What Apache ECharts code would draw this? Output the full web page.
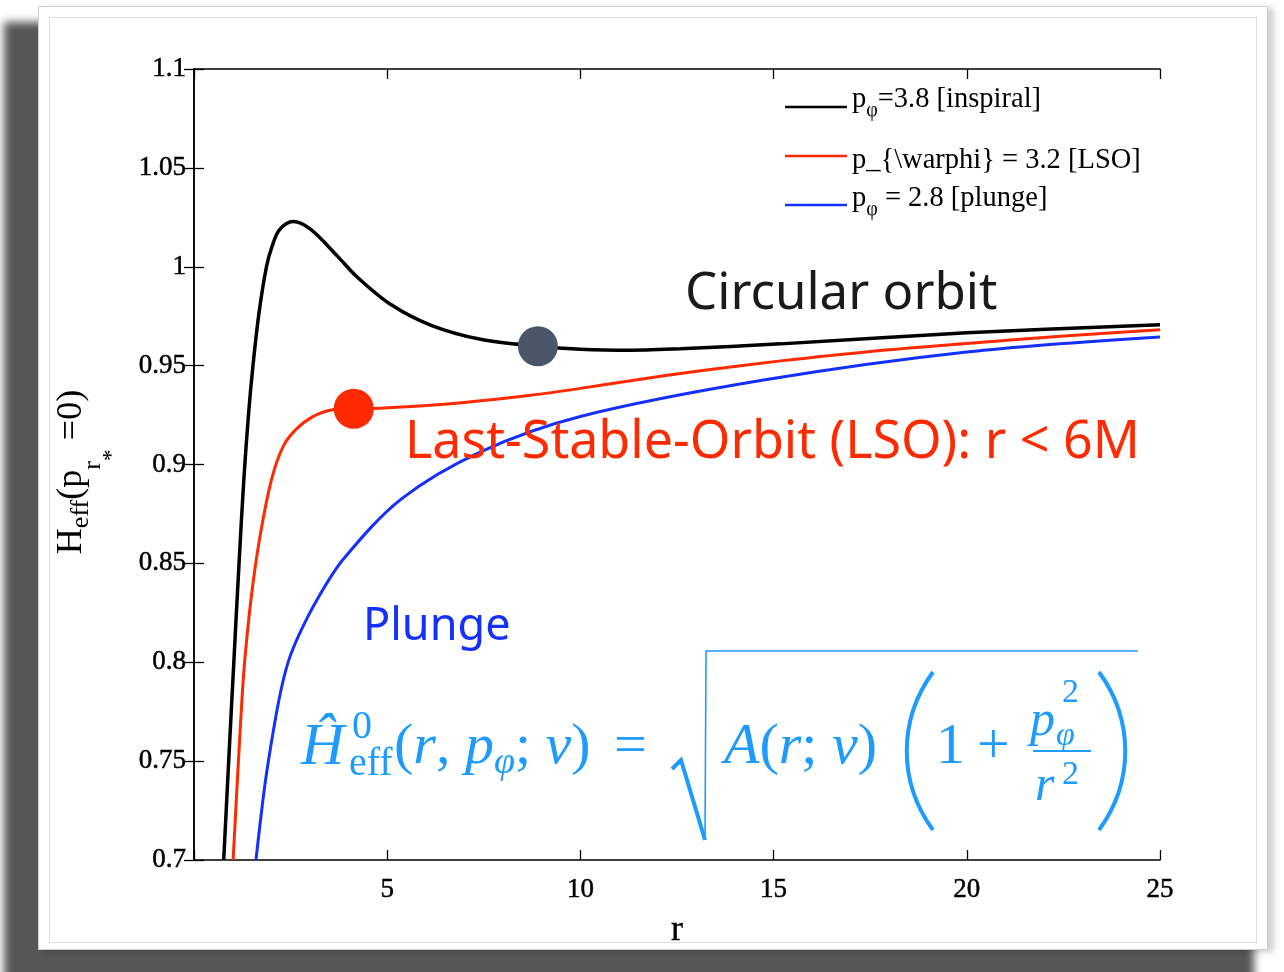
<!DOCTYPE html>
<html>
<head>
<meta charset="utf-8">
<script src="https://cdn.jsdelivr.net/npm/echarts@6/dist/echarts.min.js"></script>
<style>
  html, body { margin: 0; padding: 0; background: #ffffff; }
  #page { position: relative; width: 1284px; height: 972px; overflow: hidden; background: #ffffff; }
  #shadow { position: absolute; left: 4px; top: 22px; width: 1250px; height: 965px; background: #565656; filter: blur(4px); }
  #paper { position: absolute; left: 38px; top: 6px; width: 1228px; height: 942px; background: #ffffff;
           border: 1.5px solid #cfcfcf; box-shadow: 6px 2px 6px rgba(0,0,0,0.18); }
  #inner { position: absolute; left: 10px; top: 10px; right: 10px; bottom: 6px; border: 1px solid #dedede; }
  #chart { position: absolute; left: 0; top: 0; width: 1284px; height: 972px; }
</style>
</head>
<body>
<div id="page">
  <div id="shadow"></div>
  <div id="paper"><div id="inner"></div></div>
  <div id="chart"></div>
</div>
<script>
// Effective EOB energy at p_r* = 0 versus radius r, for three angular momenta.
const rInspiral = [0.769, 0.898, 1.031, 1.165, 1.289, 1.414, 1.528, 1.683, 1.875, 2.017, 2.211, 2.566, 3.014, 3.705, 4.223, 5.085, 6.121, 7.416, 8.90, 10.0, 11.3, 12.59, 15.18, 20, 25];
const hInspiral = [0.700, 0.7501, 0.8002, 0.8497, 0.8922, 0.9261, 0.9504, 0.9767, 1.0000, 1.0101, 1.0187, 1.0229, 1.0190, 1.0055, 0.9948, 0.9810, 0.9705, 0.9633, 0.9598, 0.9583, 0.9578, 0.9585, 0.9610, 0.9666, 0.9707];

const rLSO = [1.012, 1.15, 1.24, 1.31, 1.473, 1.693, 2.004, 2.302, 2.626, 3.066, 3.584, 4.135, 4.826, 6.38, 7.416, 8.711, 10.0, 11.3, 13.11, 15.18, 17.51, 20, 22.43, 25];
const hLSO = [0.700, 0.7501, 0.7809, 0.8002, 0.8315, 0.8619, 0.8922, 0.9089, 0.9175, 0.9241, 0.9277, 0.9282, 0.9285, 0.9303, 0.9322, 0.9350, 0.9385, 0.9424, 0.9474, 0.9524, 0.9572, 0.9612, 0.9648, 0.9681];

const rPlunge = [1.603, 1.784, 1.926, 2.198, 2.431, 2.729, 3.195, 3.868, 5.37, 7.416, 10.0, 14.74, 20, 25];
const hPlunge = [0.700, 0.7304, 0.7501, 0.7809, 0.7997, 0.8143, 0.8320, 0.8522, 0.8826, 0.9064, 0.9243, 0.9427, 0.9569, 0.9645];

// Highlighted points: circular-orbit minimum and last stable orbit
const circularPoint = [8.90, 0.9598];
const lsoPoint = [4.135, 0.9282];

// Axis tick labels
const xTicks = [0, 5, 10, 15, 20, 25];
const xTickLabels = ['', '5', '10', '15', '20', '25'];
const yTickLabels = ['0.7', '0.75', '0.8', '0.85', '0.9', '0.95', '1', '1.05', '1.1'];

const legendLabels = ['=3.8 [inspiral]', 'p_{\\warphi} = 3.2 [LSO]', ' = 2.8 [plunge]'];

const zip = (xs, ys) => xs.map((x, i) => [x, ys[i]]);

const BLACK = '#000000', RED = '#ff2a00', BLUE = '#1430ff', EQ = '#1e9bff', DOT = '#4b5569';
const SERIF = '"Liberation Serif", "Times New Roman", serif';
const SANS = '"Noto Sans", "Open Sans", sans-serif';

const chart = echarts.init(document.getElementById('chart'), null, { renderer: 'canvas' });

const axisLine = { show: true, lineStyle: { color: '#000', width: 1.5 } };
const axisTick = { show: true, inside: true, length: 10, lineStyle: { color: '#000', width: 1.3 } };
const tickFont = { fontFamily: SERIF, fontSize: 27, color: '#000', textBorderColor: '#000', textBorderWidth: 0.5 };

const graphics = [];

// Legend: sample lines and labels
const legendRows = [
  { color: BLACK, lineY: 107, textY: 100, sub: true, text: legendLabels[0] },
  { color: RED,   lineY: 156, textY: 161, sub: false, text: legendLabels[1] },
  { color: BLUE,  lineY: 205, textY: 199, sub: true, text: legendLabels[2] }
];
legendRows.forEach(row => {
  graphics.push({ type: 'line', shape: { x1: 785, y1: row.lineY, x2: 847, y2: row.lineY },
                  style: { stroke: row.color, lineWidth: 2.5 }, z: 10 });
  graphics.push({
    type: 'text', x: 852, y: row.textY, z: 10,
    style: row.sub ? {
      text: '{m|p}{s|φ}{m|' + row.text + '}',
      align: 'left', verticalAlign: 'middle',
      rich: {
        m: { fontFamily: SERIF, fontSize: 28.5, fill: '#000' },
        s: { fontFamily: SERIF, fontSize: 20, fill: '#000', padding: [22, 0, 0, 0] }
      }
    } : {
      text: row.text, align: 'left', verticalAlign: 'middle',
      fontFamily: SERIF, fontSize: 28.5, fill: '#000'
    }
  });
});

// Region annotations
graphics.push({ type: 'text', x: 685, y: 294, z: 10,
  style: { text: 'Circular orbit', fontFamily: SANS, fontSize: 51, fill: '#1a1a1a', align: 'left', verticalAlign: 'middle' } });
graphics.push({ type: 'text', x: 405, y: 443, z: 10,
  style: { text: 'Last-Stable-Orbit (LSO): r < 6M', fontFamily: SANS, fontSize: 52, fill: RED, align: 'left', verticalAlign: 'middle' } });
graphics.push({ type: 'text', x: 363, y: 627, z: 10,
  style: { text: 'Plunge', fontFamily: SANS, fontSize: 45, fill: BLUE, align: 'left', verticalAlign: 'middle' } });

// Hamiltonian formula
const eqText = (x, y, text, size, italic) => graphics.push({
  type: 'text', x: x, y: y, z: 10,
  style: { text: text, fontFamily: SERIF, fontSize: size, fontStyle: italic ? 'italic' : 'normal',
           fill: EQ, align: 'left', verticalAlign: 'middle' }
});

eqText(301, 748, 'Ĥ', 60, true);
eqText(352, 727, '0', 40, false);
eqText(349, 764, 'eff', 40, false);
graphics.push({
  type: 'text', x: 394, y: 748, z: 10,
  style: {
    text: '{u|(}{i|r}{u|, }{i|p}{s|φ}{u|; }{i|ν}{u|)}',
    align: 'left', verticalAlign: 'middle',
    rich: {
      u: { fontFamily: SERIF, fontSize: 58, fill: EQ },
      i: { fontFamily: SERIF, fontSize: 58, fontStyle: 'italic', fill: EQ },
      s: { fontFamily: SERIF, fontSize: 38, fontStyle: 'italic', fill: EQ, padding: [30, 0, 0, 0] }
    }
  }
});
eqText(614, 748, '=', 58, false);
// radical sign
graphics.push({ type: 'polyline', z: 10, shape: { points: [[672, 769], [681, 760], [705, 840]] },
                style: { stroke: EQ, lineWidth: 4, fill: null } });
graphics.push({ type: 'polyline', z: 10, shape: { points: [[705, 840], [706, 651], [1138, 651]] },
                style: { stroke: EQ, lineWidth: 1.6, fill: null } });
graphics.push({
  type: 'text', x: 724, y: 748, z: 10,
  style: {
    text: '{i|A}{u|(}{i|r}{u|; }{i|ν}{u|)}',
    align: 'left', verticalAlign: 'middle',
    rich: {
      u: { fontFamily: SERIF, fontSize: 58, fill: EQ },
      i: { fontFamily: SERIF, fontSize: 58, fontStyle: 'italic', fill: EQ }
    }
  }
});
// large parentheses
graphics.push({ type: 'bezierCurve', z: 10,
  shape: { x1: 933, y1: 672, cpx1: 898, cpy1: 720, cpx2: 898, cpy2: 782, x2: 933, y2: 830 },
  style: { stroke: EQ, lineWidth: 4, fill: null } });
graphics.push({ type: 'bezierCurve', z: 10,
  shape: { x1: 1099, y1: 672, cpx1: 1134, cpy1: 720, cpx2: 1134, cpy2: 782, x2: 1099, y2: 830 },
  style: { stroke: EQ, lineWidth: 4, fill: null } });
eqText(936, 748, '1', 58, false);
eqText(977, 748, '+', 58, false);
// fraction p_phi^2 / r^2
eqText(1030, 722, 'p', 50, true);
eqText(1056, 736, 'φ', 34, true);
eqText(1062, 693, '2', 34, false);
graphics.push({ type: 'line', z: 10, shape: { x1: 1033, y1: 751, x2: 1091, y2: 751 },
                style: { stroke: EQ, lineWidth: 2 } });
eqText(1035, 787, 'r', 50, true);
eqText(1062, 775, '2', 34, false);

// Y axis title, written bottom-to-top
graphics.push({
  type: 'text', x: 72, y: 472, rotation: Math.PI / 2, z: 10,
  style: {
    text: '{m|H}{e|eff}{m|(p}{s|r}{t|*}{m| =0)}',
    align: 'center', verticalAlign: 'middle',
    rich: {
      m: { fontFamily: SERIF, fontSize: 36, fill: '#000' },
      e: { fontFamily: SERIF, fontSize: 26, fill: '#000', padding: [18, 0, 0, 0] },
      s: { fontFamily: SERIF, fontSize: 26, fill: '#000', padding: [42, 0, 0, 0] },
      t: { fontFamily: SERIF, fontSize: 24, fill: '#000', padding: [80, 0, 0, 0] }
    }
  }
});

const option = {
  animation: false,
  backgroundColor: 'transparent',
  grid: { left: 194, right: 124, top: 69, bottom: 112, containLabel: false },
  xAxis: [
    {
      type: 'value', min: 0, max: 25, interval: 5, position: 'bottom',
      axisLine: axisLine, axisTick: axisTick, splitLine: { show: false },
      axisLabel: Object.assign({ margin: 16, showMaxLabel: true, showMinLabel: true,
        formatter: v => xTickLabels[xTicks.indexOf(Math.round(v))] }, tickFont),
      name: 'r', nameLocation: 'middle', nameGap: 53,
      nameTextStyle: { fontFamily: SERIF, fontSize: 36, color: '#000', textBorderColor: '#000', textBorderWidth: 0.4 }
    },
    {
      type: 'value', min: 0, max: 25, interval: 5, position: 'top',
      axisLine: axisLine, axisTick: axisTick, splitLine: { show: false }, axisLabel: { show: false }
    }
  ],
  yAxis: [
    {
      type: 'value', min: 0.7, max: 1.1, interval: 0.05, position: 'left',
      axisLine: axisLine, axisTick: axisTick, splitLine: { show: false },
      axisLabel: Object.assign({ margin: 8, showMaxLabel: true, showMinLabel: true,
        formatter: v => yTickLabels[Math.round((v - 0.7) / 0.05)] }, tickFont)
    },
    {
      type: 'value', min: 0.7, max: 1.1, interval: 0.05, position: 'right',
      axisLine: axisLine, axisTick: axisTick, splitLine: { show: false }, axisLabel: { show: false }
    }
  ],
  series: [
    { name: 'inspiral', type: 'line', data: zip(rInspiral, hInspiral), smooth: 0.33, showSymbol: false,
      lineStyle: { color: BLACK, width: 3.5 }, itemStyle: { color: BLACK }, z: 3 },
    { name: 'LSO', type: 'line', data: zip(rLSO, hLSO), smooth: 0.33, showSymbol: false,
      lineStyle: { color: RED, width: 3 }, itemStyle: { color: RED }, z: 3 },
    { name: 'plunge', type: 'line', data: zip(rPlunge, hPlunge), smooth: 0.33, showSymbol: false,
      lineStyle: { color: BLUE, width: 3 }, itemStyle: { color: BLUE }, z: 3 },
    { name: 'circular', type: 'scatter', data: [circularPoint], symbolSize: 40,
      itemStyle: { color: DOT, opacity: 1 }, z: 5 },
    { name: 'last stable orbit', type: 'scatter', data: [lsoPoint], symbolSize: 40,
      itemStyle: { color: RED, opacity: 1 }, z: 5 }
  ],
  graphic: graphics
};

chart.setOption(option);
</script>
</body>
</html>
